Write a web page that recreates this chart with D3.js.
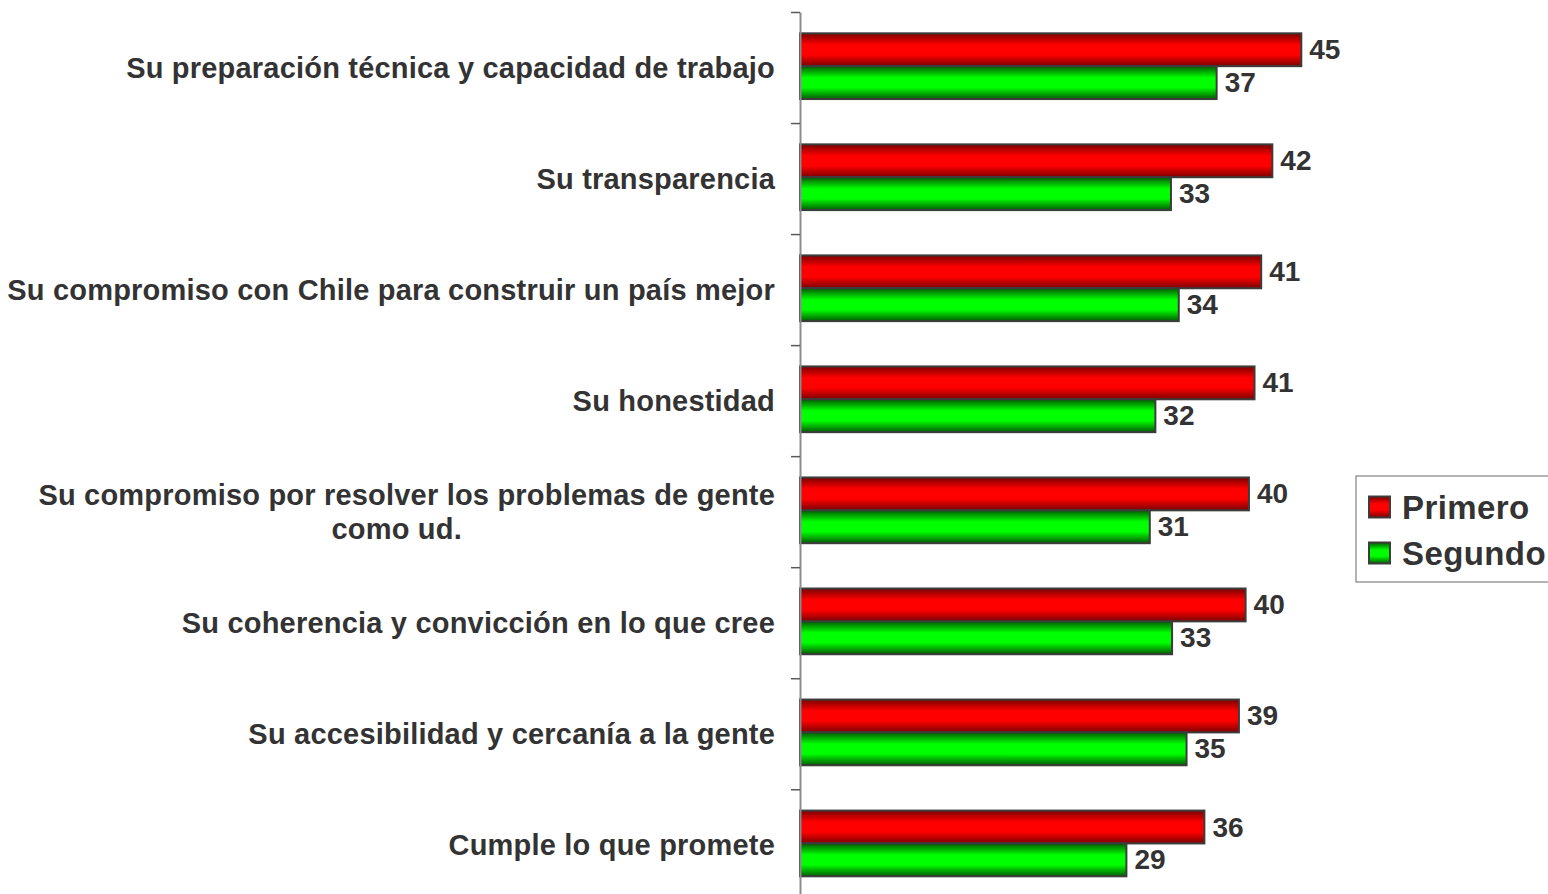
<!DOCTYPE html>
<html>
<head>
<meta charset="utf-8">
<script src="https://cdn.jsdelivr.net/npm/d3@7/dist/d3.min.js"></script>
<style>
  html, body { margin: 0; padding: 0; background: #ffffff; overflow: hidden; }
  svg { display: block; }
  text { font-family: "Liberation Sans", Arial, Helvetica, sans-serif; font-weight: bold; fill: #333333; }
</style>
</head>
<body>
<svg id="chart" width="1548" height="894"></svg>
<script>
// ---- data ----
const categories = [
  "Su preparación técnica y capacidad de trabajo",
  "Su transparencia",
  "Su compromiso con Chile para construir un país mejor",
  "Su honestidad",
  "Su compromiso por resolver los problemas de gente\ncomo ud.",
  "Su coherencia y convicción en lo que cree",
  "Su accesibilidad y cercanía a la gente",
  "Cumple lo que promete"
];
const seriesNames = ["Primero", "Segundo"];
const primero = [45.0, 42.4, 41.4, 40.8, 40.3, 40.0, 39.4, 36.3];
const segundo = [37.4, 33.3, 34.0, 31.9, 31.4, 33.4, 34.7, 29.3];
const xDomain = [0, 50];

// ---- layout ----
const plotLeft = 800, plotRight = 1357, plotTop = 12, plotBottom = 900.3;
const svg = d3.select("#chart");

const rows = categories.map((c, i) => ({ cat: c, values: [primero[i], segundo[i]] }));

const x = d3.scaleLinear().domain(xDomain).range([plotLeft, plotRight]);
const y0 = d3.scaleBand().domain(categories).range([plotTop, plotBottom]).padding(0);
const bw = y0.bandwidth();
const y1 = d3.scaleBand().domain(seriesNames).range([bw * 0.192, bw * 0.784]).padding(0);

// gradients
const defs = svg.append("defs");
const gradSpecs = [
  { id: "gRed", edge: "#7a0000", mid: "#ff0000" },
  { id: "gGreen", edge: "#005a00", mid: "#00ff00" }
];
gradSpecs.forEach(g => {
  const lg = defs.append("linearGradient").attr("id", g.id)
    .attr("x1", 0).attr("y1", 0).attr("x2", 0).attr("y2", 1);
  lg.append("stop").attr("offset", "0%").attr("stop-color", g.edge);
  lg.append("stop").attr("offset", "35%").attr("stop-color", g.mid);
  lg.append("stop").attr("offset", "65%").attr("stop-color", g.mid);
  lg.append("stop").attr("offset", "100%").attr("stop-color", g.edge);
});
const fillFor = d3.scaleOrdinal().domain(seriesNames).range(["url(#gRed)", "url(#gGreen)"]);

// bars
const groups = svg.append("g").selectAll("g.row").data(rows).join("g")
  .attr("class", "row")
  .attr("transform", d => `translate(0,${y0(d.cat)})`);

groups.selectAll("rect").data(d => d.values.map((v, j) => ({ s: seriesNames[j], v })))
  .join("rect")
  .attr("x", x(0))
  .attr("y", d => y1(d.s))
  .attr("width", d => x(d.v) - x(0))
  .attr("height", y1.bandwidth())
  .attr("fill", d => fillFor(d.s))
  .attr("stroke", "#3c3c3c")
  .attr("stroke-width", 2);

// value labels
const fmt = d3.format(".0f");
groups.selectAll("text.val").data(d => d.values.map((v, j) => ({ s: seriesNames[j], v })))
  .join("text")
  .attr("class", "val")
  .attr("x", d => x(d.v) + 8)
  .attr("y", d => y1(d.s) + y1.bandwidth() / 2)
  .attr("dy", "0.34em")
  .attr("font-size", 28)
  .text(d => fmt(d.v));

// category axis (ticks at band boundaries)
const idx = d3.scaleLinear().domain([0, categories.length]).range([plotTop, plotBottom]);
const axis = svg.append("g").attr("transform", `translate(${plotLeft},0)`)
  .call(d3.axisLeft(idx).tickValues(d3.range(categories.length + 1)).tickSize(9).tickSizeOuter(0).tickFormat(""));
axis.select(".domain").attr("stroke", "#8c8c8c").attr("stroke-width", 2);
axis.selectAll(".tick line").attr("stroke", "#5a5a5a").attr("stroke-width", 1.5);

// category labels
const labelRight = 775;
const catG = svg.append("g");
rows.forEach(r => {
  const lines = r.cat.split("\n");
  const cy = y0(r.cat) + bw / 2;
  const lh = 33.4;
  const firstBase = cy - (lines.length - 1) * lh / 2;
  const t0 = catG.append("text")
    .attr("x", labelRight).attr("y", firstBase).attr("dy", "0.35em")
    .attr("text-anchor", "end").attr("font-size", 29).attr("letter-spacing", 0.2).text(lines[0]);
  if (lines.length > 1) {
    const w0 = t0.node().getComputedTextLength();
    for (let k = 1; k < lines.length; k++) {
      catG.append("text")
        .attr("x", labelRight - w0 / 2 - 10).attr("y", firstBase + k * lh).attr("dy", "0.35em")
        .attr("text-anchor", "middle").attr("font-size", 29).attr("letter-spacing", 0.2).text(lines[k]);
    }
  }
});

// legend
const lg = svg.append("g").attr("transform", "translate(1356,476)");
lg.append("rect").attr("x", 0).attr("y", 0).attr("width", 260).attr("height", 106)
  .attr("fill", "#ffffff").attr("stroke", "#808080").attr("stroke-width", 1.2);
const legY = d3.scaleBand().domain(seriesNames).range([8, 100]);
const li = lg.selectAll("g.li").data(seriesNames).join("g").attr("class", "li")
  .attr("transform", d => `translate(0,${legY(d) + legY.bandwidth() / 2})`);
li.append("rect").attr("x", 13).attr("y", -10.5).attr("width", 21).attr("height", 21)
  .attr("fill", d => fillFor(d)).attr("stroke", "#3c3c3c").attr("stroke-width", 2);
li.append("text").attr("x", 46).attr("y", 0).attr("dy", "0.36em")
  .attr("font-size", 33).attr("letter-spacing", 0.4).text(d => d);
</script>
</body>
</html>
